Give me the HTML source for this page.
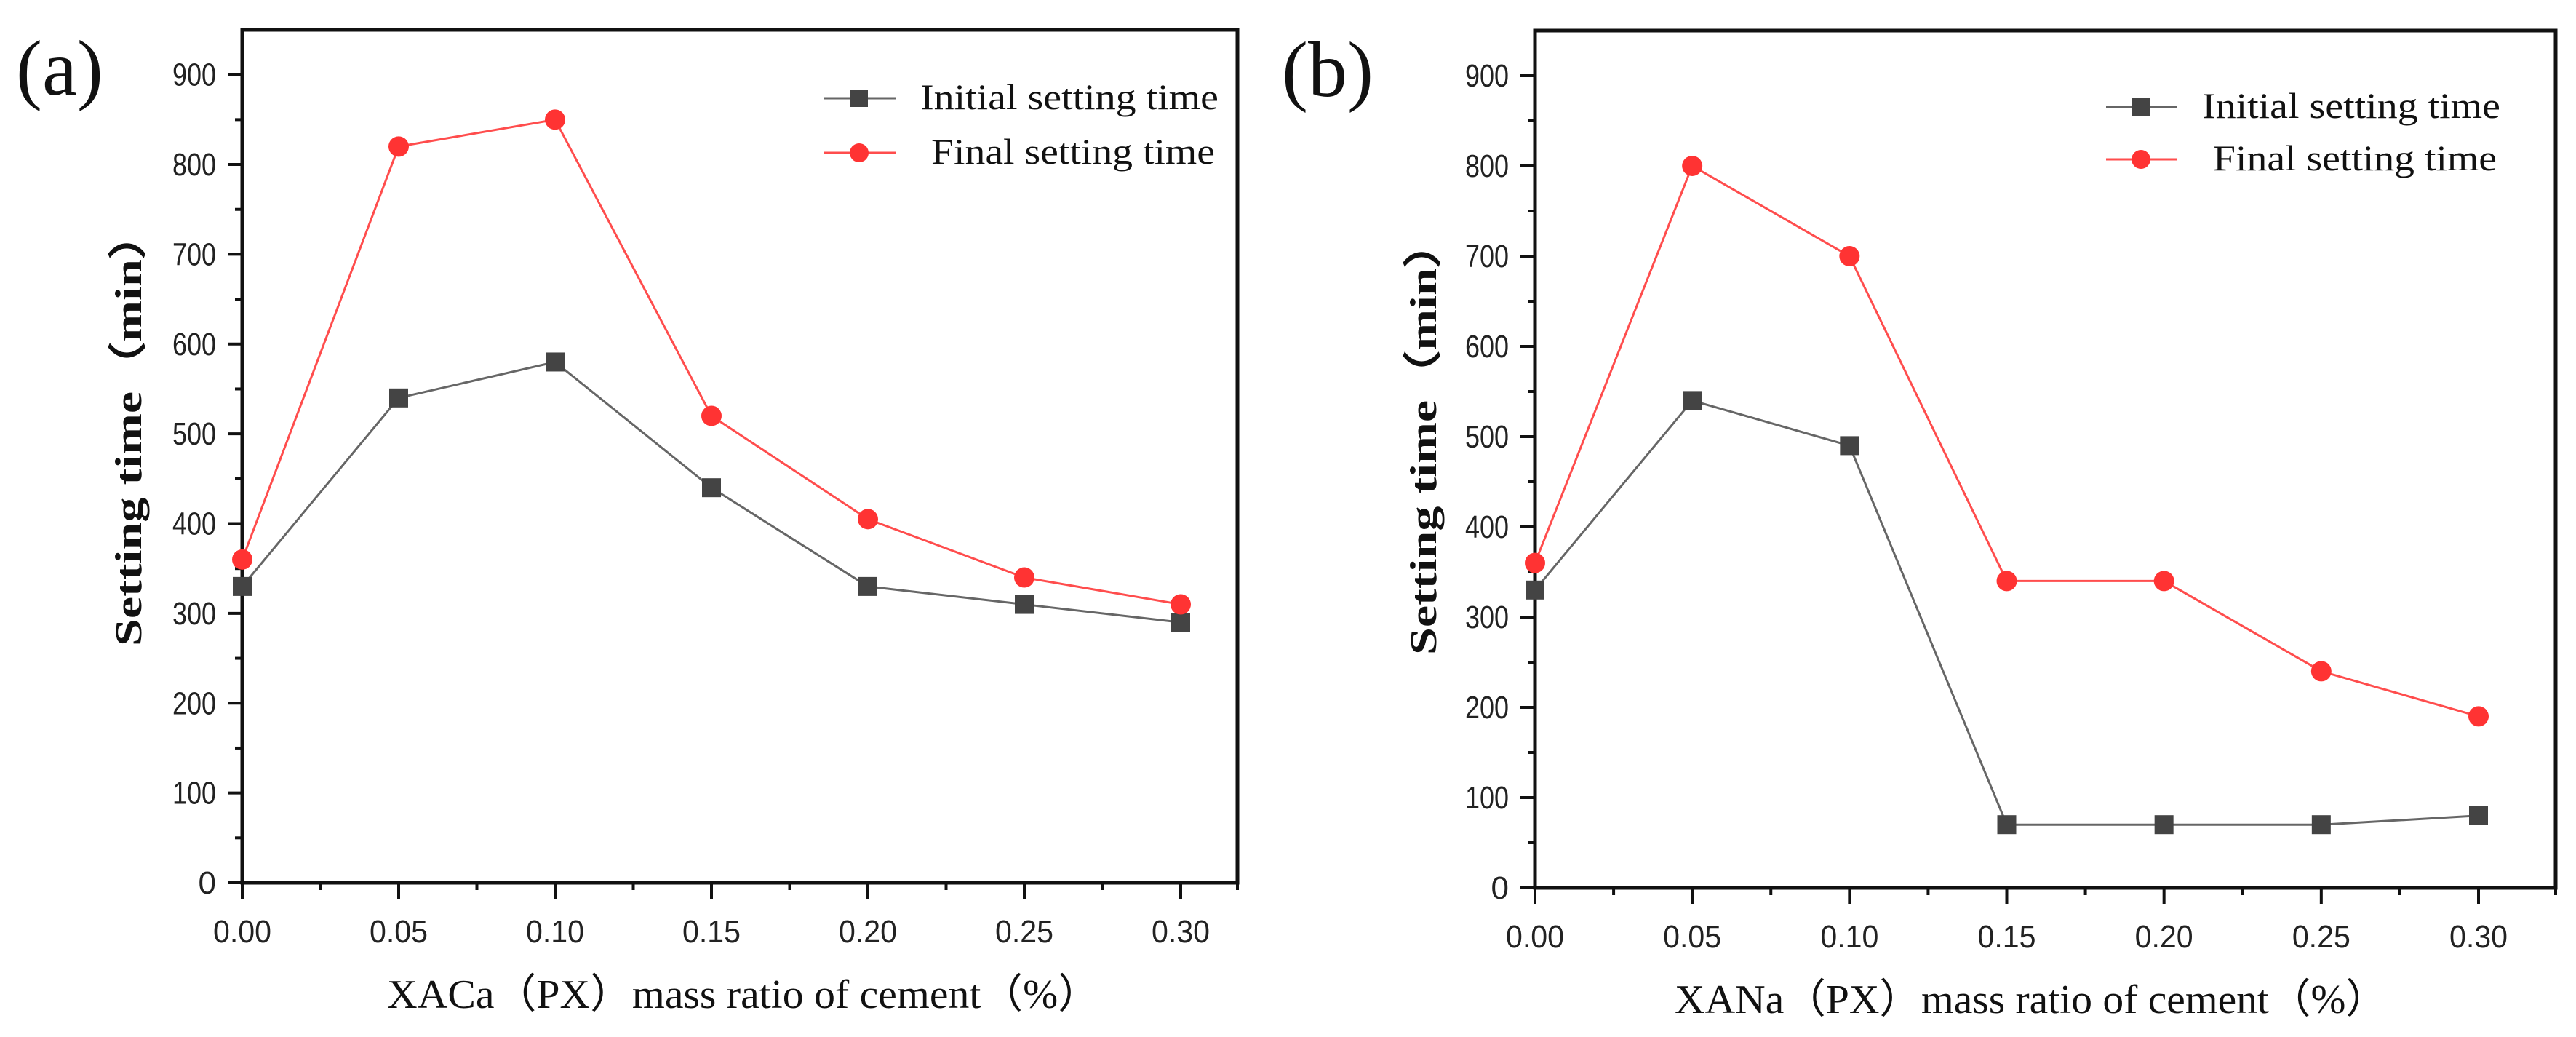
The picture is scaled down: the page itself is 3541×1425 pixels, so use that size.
<!DOCTYPE html>
<html><head><meta charset="utf-8"><style>
html,body{margin:0;padding:0;background:#fff;}
svg{display:block;}
.tick{font-family:"Liberation Sans",sans-serif;font-size:44px;fill:#222;}
.ser{font-family:"Liberation Serif",serif;fill:#111;}
</style></head><body>
<svg id="fig" width="3541" height="1425" viewBox="0 0 3541 1425" xmlns="http://www.w3.org/2000/svg">
<text class="ser" x="22" y="130" font-size="108">(a)</text>
<text class="ser" x="1762" y="132" font-size="108">(b)</text>
<g id="pa"></g>
<g id="pb"></g>
</svg>
<script>
const xCategories = [0, 0.05, 0.10, 0.15, 0.20, 0.25, 0.30];
const xTickLabels = ["0.00","0.05","0.10","0.15","0.20","0.25","0.30"];
const yTickValues = [0,100,200,300,400,500,600,700,800,900];
const initialA = [330, 540, 580, 440, 330, 310, 290];
const finalA = [360, 820, 850, 520, 405, 340, 310];
const initialB = [330, 540, 490, 70, 70, 70, 80];
const finalB = [360, 800, 700, 340, 340, 240, 190];
const NS = "http://www.w3.org/2000/svg";
function mk(p, tag, attrs){const e=document.createElementNS(NS,tag);for(const k in attrs)e.setAttribute(k,attrs[k]);p.appendChild(e);return e;}
function drawPanel(g, cfg, init, fin, xtitle, key){
  const {L,R,T,B,x30}=cfg;
  const xs=v=>L+v/0.30*(x30-L);
  const ys=v=>B-v/950*(B-T);
  const fr=mk(g,'rect',{x:L,y:T,width:R-L,height:B-T,fill:'none',stroke:'#111','stroke-width':5});
  
  
  for(let v=0;v<=900;v+=50){
    const major=v%100===0;
    mk(g,'line',{x1:L-(major?20:10),x2:L,y1:ys(v),y2:ys(v),stroke:'#111','stroke-width':4});
  }
  yTickValues.forEach(v=>{
    const t=mk(g,'text',{x:L-36,y:ys(v)+15,'text-anchor':'end',class:'tick'});
    t.textContent=v;
    if(String(v).length===3){t.setAttribute('textLength',60);t.setAttribute('lengthAdjust','spacingAndGlyphs');}
    
    
  });
  for(let i=0;i<=13;i++){
    const v=i*0.025; const px=xs(v); if(px>R+1)break;
    const major=i%2===0;
    mk(g,'line',{x1:px,x2:px,y1:B,y2:B+(major?22:10),stroke:'#111','stroke-width':4});
  }
  mk(g,'line',{x1:R,x2:R,y1:B,y2:B+10,stroke:'#111','stroke-width':4});
  xCategories.forEach((v,i)=>{
    const t=mk(g,'text',{x:xs(v),y:B+82,'text-anchor':'middle',class:'tick',textLength:80,lengthAdjust:'spacingAndGlyphs'});
    t.textContent=xTickLabels[i];
    
    
  });
  const ptsI=xCategories.map((v,i)=>xs(v)+','+ys(init[i])).join(' ');
  const ptsF=xCategories.map((v,i)=>xs(v)+','+ys(fin[i])).join(' ');
  const lI=mk(g,'polyline',{points:ptsI,fill:'none',stroke:'#666','stroke-width':3});
  
  
  const lF=mk(g,'polyline',{points:ptsF,fill:'none',stroke:'#ff4d4d','stroke-width':3});
  
  
  xCategories.forEach((v,i)=>{
    const s=mk(g,'rect',{x:xs(v)-13,y:ys(init[i])-13,width:26,height:26,fill:'#444'});
    
    
  });
  xCategories.forEach((v,i)=>{
    const c=mk(g,'circle',{cx:xs(v),cy:ys(fin[i]),r:14,fill:'#ff3333'});
    
    
  });
  const lg=mk(g,'g',{});
  
  
  mk(lg,'line',{x1:cfg.lx,x2:cfg.lx+98,y1:cfg.ly1,y2:cfg.ly1,stroke:'#666','stroke-width':3});
  mk(lg,'rect',{x:cfg.lx+36,y:cfg.ly1-12,width:24,height:24,fill:'#444'});
  mk(lg,'line',{x1:cfg.lx,x2:cfg.lx+98,y1:cfg.ly2,y2:cfg.ly2,stroke:'#ff4d4d','stroke-width':3});
  mk(lg,'circle',{cx:cfg.lx+48,cy:cfg.ly2,r:13,fill:'#ff3333'});
  const t1=mk(lg,'text',{x:cfg.lx+132,y:cfg.ly1+15,class:'ser','font-size':50,textLength:410,lengthAdjust:'spacingAndGlyphs'});
  t1.textContent='Initial setting time';
  const t2=mk(lg,'text',{x:cfg.lx+147,y:cfg.ly2+15,class:'ser','font-size':50,textLength:390,lengthAdjust:'spacingAndGlyphs'});
  t2.textContent='Final setting time';
  const yt=mk(g,'text',{x:0,y:0,class:'ser','font-size':52,'font-weight':'bold','text-anchor':'middle',textLength:600,lengthAdjust:'spacingAndGlyphs',transform:`translate(${cfg.ytx},${cfg.ytc}) rotate(-90)`});
  yt.textContent='Setting time（min）';
  
  
  const xt=mk(g,'text',{x:cfg.xtx,y:B+172,class:'ser','font-size':56,'text-anchor':'middle',textLength:980,lengthAdjust:'spacingAndGlyphs'});
  xt.textContent=xtitle;
  
  
}
drawPanel(document.getElementById('pa'),{L:333,R:1701,T:41,B:1213,x30:1623,lx:1133,ly1:135,ly2:210,ytx:194,ytc:588,xtx:1022},initialA,finalA,'XACa（PX）mass ratio of cement（%）','a');
drawPanel(document.getElementById('pb'),{L:2110,R:3513,T:42,B:1220,x30:3407,lx:2895,ly1:147,ly2:219,ytx:1974,ytc:600,xtx:2792},initialB,finalB,'XANa（PX）mass ratio of cement（%）','b');
</script>
</body></html>
